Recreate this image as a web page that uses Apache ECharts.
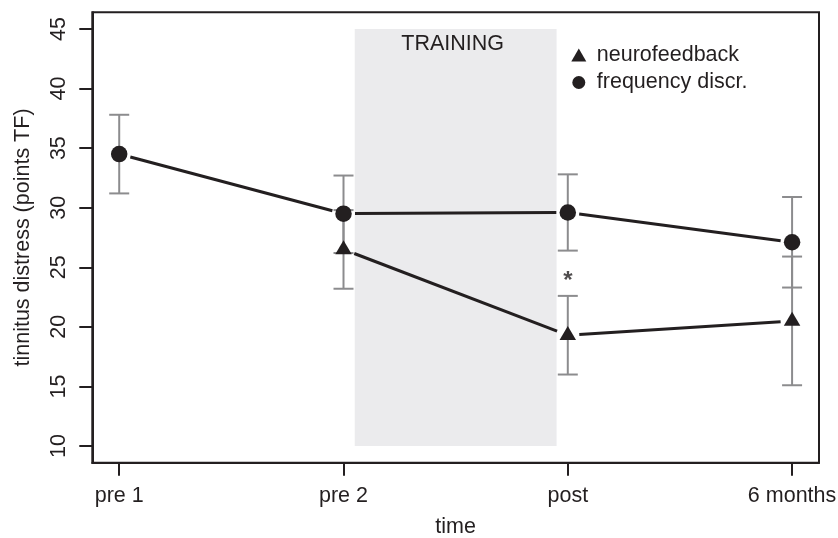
<!DOCTYPE html>
<html><head><meta charset="utf-8">
<script src="https://cdn.jsdelivr.net/npm/echarts@6/dist/echarts.min.js"></script>
<style>html,body{margin:0;padding:0;background:#fff}#c{width:838px;height:538px}</style>
</head><body><div id="c"></div>
<script>
const categories = ['pre 1', 'pre 2', 'post', '6 months'];
const xPositions = [1, 2, 3, 4];
const freqMean = [34.5, 29.5, 29.6, 27.1];
const freqLow = [31.2, 26.2, 26.4, 23.3];
const freqHigh = [37.8, 32.7, 32.8, 30.9];
const neuroMean = [null, 26.5, 19.3, 20.5];
const neuroLow = [null, 23.2, 16.0, 15.1];
const neuroHigh = [null, 29.8, 22.6, 25.9];
const yTicks = [10, 15, 20, 25, 30, 35, 40, 45];
const trainingX = [2.05, 2.95];
const trainingY = [10, 45];
const starPoint = [3, 24.0];

const INK = '#231f20';
const GREY = '#8c8c8e';
const FONT = "'Liberation Sans', Arial, Helvetica, sans-serif";
const FS = 21.5;

function pts(means) {
  const out = [];
  means.forEach((m, i) => { if (m != null) out.push([xPositions[i], m]); });
  return out;
}
function segs(means) {
  const out = [];
  for (let i = 0; i < means.length - 1; i++) {
    if (means[i] != null && means[i + 1] != null)
      out.push([xPositions[i], means[i], xPositions[i + 1], means[i + 1]]);
  }
  return out;
}
function bars(lo, hi) {
  const out = [];
  lo.forEach((l, i) => { if (l != null) out.push([xPositions[i], l, hi[i]]); });
  return out;
}

function renderSeg(params, api) {
  const p1 = api.coord([api.value(0), api.value(1)]);
  const p2 = api.coord([api.value(2), api.value(3)]);
  const dx = p2[0] - p1[0], dy = p2[1] - p1[1];
  const len = Math.sqrt(dx * dx + dy * dy);
  const ux = dx / len, uy = dy / len, gap = 11.5;
  return {
    type: 'line',
    shape: { x1: p1[0] + ux * gap, y1: p1[1] + uy * gap, x2: p2[0] - ux * gap, y2: p2[1] - uy * gap },
    style: { stroke: INK, lineWidth: 3 }
  };
}
function renderBar(params, api) {
  const lo = api.coord([api.value(0), api.value(1)]);
  const hi = api.coord([api.value(0), api.value(2)]);
  const hw = 10;
  const st = { stroke: GREY, lineWidth: 2 };
  return {
    type: 'group',
    children: [
      { type: 'line', shape: { x1: lo[0], y1: lo[1], x2: hi[0], y2: hi[1] }, style: st },
      { type: 'line', shape: { x1: lo[0] - hw, y1: lo[1], x2: lo[0] + hw, y2: lo[1] }, style: st },
      { type: 'line', shape: { x1: hi[0] - hw, y1: hi[1], x2: hi[0] + hw, y2: hi[1] }, style: st }
    ]
  };
}
function renderTraining(params, api) {
  const a = api.coord([api.value(0), api.value(3)]);
  const b = api.coord([api.value(2), api.value(1)]);
  return {
    type: 'group',
    children: [
      { type: 'rect', shape: { x: a[0], y: a[1], width: b[0] - a[0], height: b[1] - a[1] }, style: { fill: '#ebebed' } },
      { type: 'text', style: { text: 'TRAINING', x: (a[0] + b[0]) / 2 - 3, y: a[1] + 4, align: 'center', verticalAlign: 'top', fill: INK, font: FS + 'px ' + FONT } }
    ]
  };
}

const chart = echarts.init(document.getElementById('c'));
chart.setOption({
  animation: false,
  backgroundColor: '#fff',
  textStyle: { fontFamily: FONT, color: INK },
  grid: { left: 92.3, right: 19, top: 12.3, bottom: 75.3, show: true, borderColor: INK, borderWidth: 2, containLabel: false, outerBoundsMode: 'none' },
  legend: {
    orient: 'vertical', left: 566.3, top: 39, itemWidth: 26, itemHeight: 13, itemGap: 5.5,
    selectedMode: false,
    textStyle: { fontSize: FS, color: INK, fontFamily: FONT },
    data: [
      { name: 'neurofeedback', icon: 'path://M0,10 L5.7735,0 L11.547,10 Z' },
      { name: 'frequency discr.', icon: 'circle' }
    ]
  },
  xAxis: {
    type: 'value', min: 0.88, max: 4.12,
    axisLine: { show: true, lineStyle: { color: INK, width: 2 } },
    axisTick: { show: true, customValues: xPositions, length: 13, lineStyle: { color: INK, width: 2 } },
    axisLabel: { customValues: xPositions, formatter: v => categories[xPositions.indexOf(v)], fontSize: FS, color: INK, margin: 22, fontFamily: FONT },
    splitLine: { show: false },
    name: 'time', nameLocation: 'middle', nameGap: 53,
    nameTextStyle: { fontSize: FS, color: INK, fontFamily: FONT }
  },
  yAxis: {
    type: 'value', min: 8.6, max: 46.4,
    axisLine: { show: true, lineStyle: { color: INK, width: 2 } },
    axisTick: { show: true, customValues: yTicks, length: 13, lineStyle: { color: INK, width: 2 } },
    axisLabel: { customValues: yTicks, rotate: 90, fontSize: FS, color: INK, margin: 22, fontFamily: FONT },
    splitLine: { show: false },
    name: 'tinnitus distress (points TF)', nameLocation: 'middle', nameGap: 58,
    nameTextStyle: { fontSize: FS, color: INK, fontFamily: FONT }
  },
  series: [
    { type: 'custom', name: 'training', renderItem: renderTraining, data: [[trainingX[0], trainingY[0], trainingX[1], trainingY[1]]], z: 1, silent: true },
    { type: 'custom', name: 'freqErr', renderItem: renderBar, data: bars(freqLow, freqHigh), z: 2, silent: true },
    { type: 'custom', name: 'neuroErr', renderItem: renderBar, data: bars(neuroLow, neuroHigh), z: 2, silent: true },
    { type: 'custom', name: 'freqLine', renderItem: renderSeg, data: segs(freqMean), z: 3, silent: true },
    { type: 'custom', name: 'neuroLine', renderItem: renderSeg, data: segs(neuroMean), z: 3, silent: true },
    { type: 'scatter', name: 'frequency discr.', data: pts(freqMean), symbol: 'circle', symbolSize: 16.5, itemStyle: { color: INK, opacity: 1 }, z: 4, silent: true },
    { type: 'scatter', name: 'neurofeedback', data: pts(neuroMean), symbol: 'triangle', symbolSize: [16.5, 14], symbolOffset: [0, -2.2], itemStyle: { color: INK, opacity: 1 }, z: 4, silent: true },
    { type: 'scatter', name: 'star', data: [starPoint], symbolSize: 0, silent: true, z: 5,
      label: { show: true, position: 'inside', formatter: '*', fontSize: 24, fontWeight: 'bold', color: INK, fontFamily: FONT, offset: [0, 2] } }
  ]
});
</script></body></html>
